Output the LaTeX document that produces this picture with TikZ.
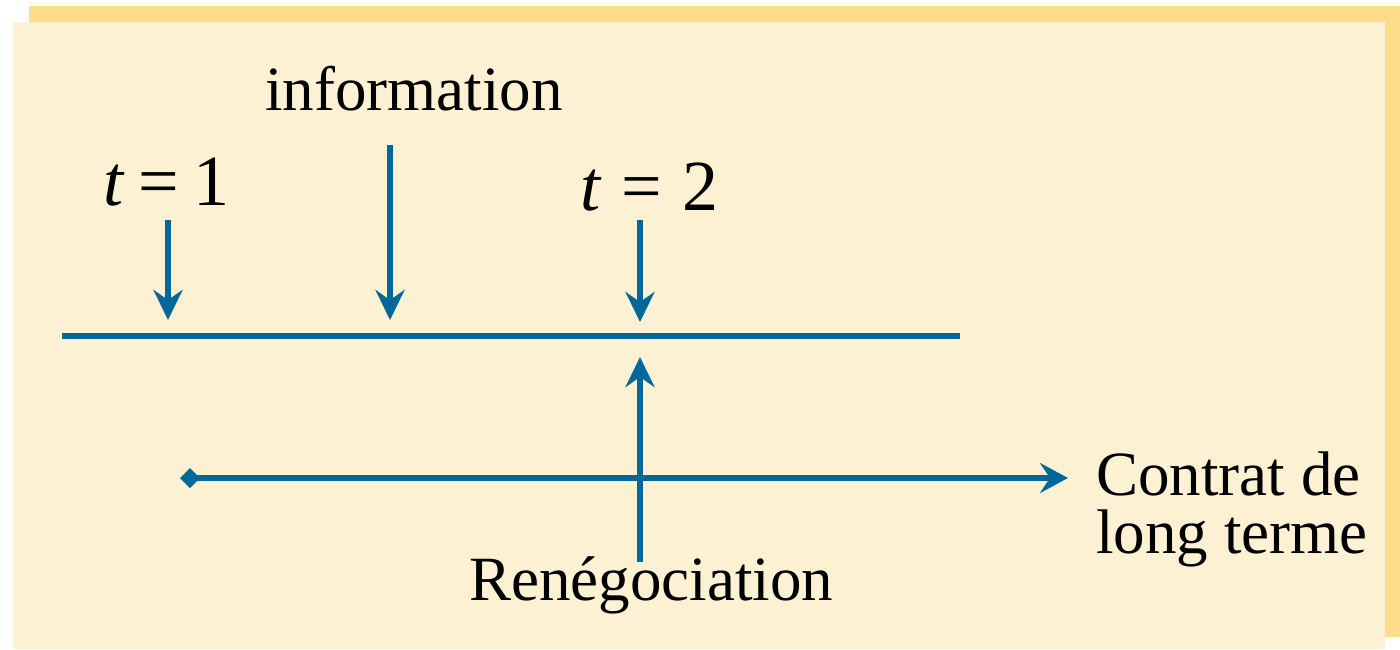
\documentclass[tikz,border=0pt]{standalone}
\usepackage{fontspec}
\setmainfont{Liberation Serif}
\usetikzlibrary{arrows.meta}
\definecolor{panelback}{HTML}{FDF1D4}
\definecolor{panelshade}{HTML}{FDDC8A}
\definecolor{lineblue}{HTML}{00679A}
\tikzset{
  conn/.style={draw=lineblue, line width=2.6pt},
  arr/.style={conn, -{Stealth[length=15pt,width=14.5pt,inset=5pt]}},
  lbl/.style={inner sep=0pt, font=\fontsize{31.5pt}{29pt}\selectfont, text=black},
  tlbl/.style={inner sep=0pt, font=\fontsize{36pt}{40pt}\selectfont, text=black},
}
\begin{document}
\begin{tikzpicture}[x=0.5pt,y=-0.5pt]
\useasboundingbox (0,0) rectangle (1400,649);
\fill[panelshade] (29,6) rectangle (1400,637);
\fill[panelback] (13,22) rectangle (1385,649);

% time line
\coordinate (L) at (62,336);
\coordinate (R) at (960,336);
\draw[conn] (L) -- (R);

% labels
\node[lbl, anchor=base west] (info) at (265,110) {information};
\node[tlbl, anchor=base west] (t1) at (103,205) {\itshape t\upshape\hspace{7.5pt}=\hspace{7.5pt}1};
\node[tlbl, anchor=base west] (t2) at (580,210) {\itshape t\upshape\hspace{10.5pt}=\hspace{10.5pt}2};
\node[lbl, anchor=base west] (reneg) at (469,600) {Renégociation};
\node[lbl, anchor=base west, align=left] (contrat) at (1096,553) {Contrat de\\long terme};

% arrow ends
\coordinate (t1s) at (168,220);
\coordinate (t1e) at (168,320);
\coordinate (infos) at (390,145);
\coordinate (infoe) at (390,320);
\coordinate (t2s) at (640,220);
\coordinate (t2e) at (640,322);
\coordinate (rs) at (640,562);
\coordinate (re) at (640,357);
\coordinate (cs) at (180,478);
\coordinate (ce) at (1068,478);

\draw[arr] (t1s) -- (t1e);
\draw[arr] (infos) -- (infoe);
\draw[arr] (t2s) -- (t2e);
\draw[arr] (rs) -- (re);
\draw[conn, {Diamond[length=10pt,width=10pt]}-{Stealth[length=14pt,width=15pt,inset=5pt]}] (cs) -- (ce);
\end{tikzpicture}
\end{document}
